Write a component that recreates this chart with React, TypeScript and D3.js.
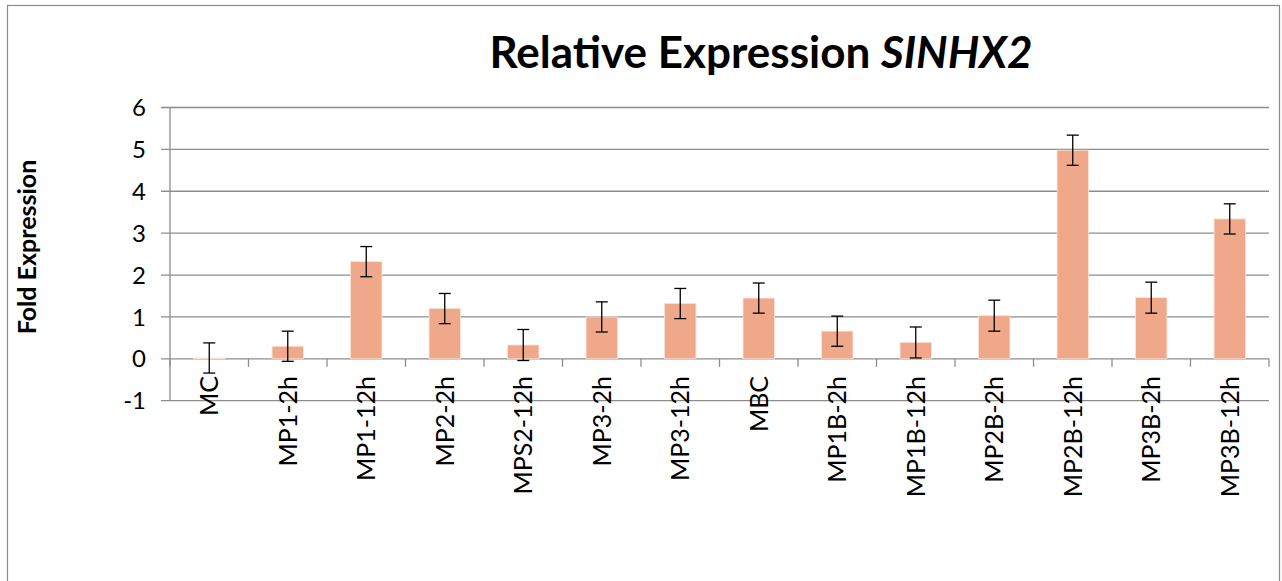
import React from "react";
import * as d3 from "d3";

const categories = ["MC", "MP1-2h", "MP1-12h", "MP2-2h", "MPS2-12h", "MP3-2h", "MP3-12h", "MBC", "MP1B-2h", "MP1B-12h", "MP2B-2h", "MP2B-12h", "MP3B-2h", "MP3B-12h"];
const values = [0.02, 0.30, 2.32, 1.20, 0.33, 1.00, 1.32, 1.45, 0.66, 0.39, 1.03, 4.98, 1.46, 3.34];
const errors = [0.36, 0.36, 0.36, 0.36, 0.37, 0.36, 0.36, 0.36, 0.36, 0.37, 0.37, 0.36, 0.37, 0.36];
const yTicks = [-1, 0, 1, 2, 3, 4, 5, 6];

const W = 1282;
const H = 581;
const FONT = "Lato, 'Open Sans', sans-serif";

export default function App() {
  const x = d3.scaleBand<string>().domain(categories).range([170, 1269]).paddingInner(0).paddingOuter(0);
  const y = d3.scaleLinear().domain([-1, 6]).range([400.7, 107.5]);
  const bw = x.bandwidth() * 0.4;
  const boundaries = categories.map((c) => x(c) as number).concat([1269]);
  const grid = "#8c8c8c";

  return (
    <svg width={W} height={H} style={{ position: "absolute", left: 0, top: 0, background: "#fff" }}>
      <rect x={7.5} y={5.5} width={1272} height={H + 20} fill="#fff" stroke="#8c8c8c" strokeWidth={1.2} />
      <text x={761} y={68} textAnchor="middle" fontFamily={FONT} fontWeight="bold" fontSize={44} fill="#000">
        Relative Expression <tspan fontStyle="italic">SINHX2</tspan>
      </text>
      {yTicks.map((t) => (
        <g key={t}>
          <line x1={161} x2={1269} y1={y(t)} y2={y(t)} stroke={grid} strokeWidth={1.3} />
          <text x={146} y={y(t)} dy="0.36em" textAnchor="end" fontFamily={FONT} fontSize={24} fill="#000">
            {t}
          </text>
        </g>
      ))}
      <line x1={170} x2={170} y1={y(6)} y2={y(-1)} stroke={grid} strokeWidth={1.3} />
      {boundaries.map((b, i) => (
        <line key={i} x1={b} x2={b} y1={y(0)} y2={y(0) + 8} stroke={grid} strokeWidth={1.3} />
      ))}
      {categories.map((c, i) => {
        const cx = (x(c) as number) + x.bandwidth() / 2;
        const v = values[i];
        const e = errors[i];
        return (
          <g key={c}>
            <rect x={cx - bw / 2} y={y(Math.max(v, 0))} width={bw} height={Math.abs(y(v) - y(0))} fill="#f0a88a" stroke="#fbe0d5" strokeWidth={0.8} />
            <line x1={cx} x2={cx} y1={y(v + e)} y2={y(v - e)} stroke="#000" strokeWidth={1.3} />
            <line x1={cx - 6} x2={cx + 6} y1={y(v + e)} y2={y(v + e)} stroke="#000" strokeWidth={1.3} />
            <line x1={cx - 6} x2={cx + 6} y1={y(v - e)} y2={y(v - e)} stroke="#000" strokeWidth={1.3} />
            <text transform={`translate(${cx},376) rotate(-90)`} dy="0.36em" textAnchor="end" fontFamily={FONT} fontSize={25} fill="#000">
              {c}
            </text>
          </g>
        );
      })}
      <text transform="translate(27,247) rotate(-90)" dy="0.36em" textAnchor="middle" fontFamily={FONT} fontWeight="bold" fontSize={25} fill="#000">
        Fold Expression
      </text>
    </svg>
  );
}
